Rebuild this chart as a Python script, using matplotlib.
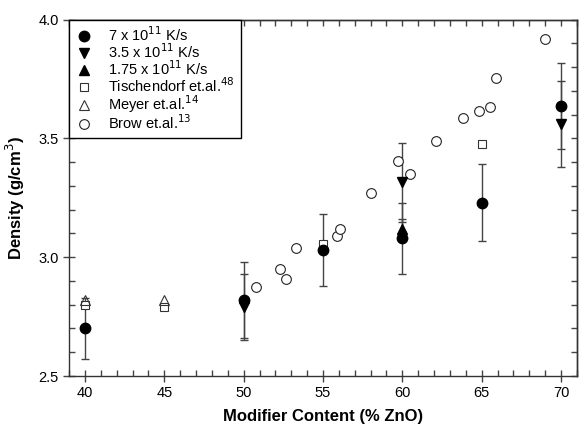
import numpy as np
import matplotlib.pyplot as plt
from matplotlib.ticker import MultipleLocator, NullFormatter

plt.rcParams['font.family'] = ['Liberation Sans', 'DejaVu Sans']

# Cooling rate 7e11 K/s
x_7 = [40, 50, 55, 60, 65, 70]
d_7 = [2.70, 2.82, 3.03, 3.08, 3.23, 3.635]
e_7 = [0.13, 0.16, 0.15, 0.15, 0.16, 0.18]

# Cooling rate 3.5e11 K/s
x_35 = [50, 60, 70]
d_35 = [2.79, 3.315, 3.56]
e_35 = [0.14, 0.165, 0.18]

# Cooling rate 1.75e11 K/s
x_175 = [60]
d_175 = [3.12]
e_175 = [0.04]

# Tischendorf et.al.
x_tis = [40, 45, 55, 65]
d_tis = [2.80, 2.79, 3.055, 3.475]

# Meyer et.al.
x_mey = [40, 45]
d_mey = [2.82, 2.82]

# Brow et.al.
x_brow = [50.75, 52.3, 52.7, 53.3, 55.9, 56.1, 58.05, 59.75, 60.5, 62.1,
          63.8, 64.8, 65.5, 65.9, 69.0]
d_brow = [2.874, 2.95, 2.908, 3.04, 3.09, 3.12, 3.27, 3.405, 3.35, 3.487,
          3.585, 3.617, 3.63, 3.755, 3.92]

fig = plt.figure(figsize=(5.79, 4.24), dpi=100)
ax = fig.add_axes([0.1192, 0.1132, 0.8773, 0.8408])

ebar = dict(fmt='none', ecolor='#444444', elinewidth=1.0, capsize=3.2, capthick=1.0)
ax.errorbar(x_7, d_7, yerr=e_7, **ebar)
ax.errorbar(x_35, d_35, yerr=e_35, **ebar)
ax.errorbar(x_175, d_175, yerr=e_175, **ebar)

ax.plot(x_tis, d_tis, 's', ms=6, mfc='white', mec='#333333', mew=0.8,
        label='Tischendorf et.al.$^{48}$', zorder=3)
ax.plot(x_mey, d_mey, '^', ms=6.5, mfc='none', mec='#333333', mew=0.8,
        label='Meyer et.al.$^{14}$', zorder=3)
ax.plot(x_brow, d_brow, 'o', ms=7, mfc='white', mec='#222222', mew=0.8,
        label='Brow et.al.$^{13}$', zorder=3)
ax.plot(x_175, d_175, '^', ms=7, color='black', label='1.75 x 10$^{11}$ K/s', zorder=4)
ax.plot(x_35, d_35, 'v', ms=7, color='black', label='3.5 x 10$^{11}$ K/s', zorder=4)
ax.plot(x_7, d_7, 'o', ms=7.5, color='black', label='7 x 10$^{11}$ K/s', zorder=5)

ax.set_xlim(39, 71)
ax.set_ylim(2.5, 4.0)
ax.xaxis.set_major_locator(MultipleLocator(5))
ax.xaxis.set_minor_locator(MultipleLocator(1))
ax.yaxis.set_major_locator(MultipleLocator(0.5))
ax.yaxis.set_minor_locator(MultipleLocator(0.1))
ax.yaxis.set_major_formatter(plt.FormatStrFormatter('%.1f'))

ax.tick_params(which='major', direction='inout', length=8, width=1, labelsize=10.5,
               color='#444444')
ax.tick_params(which='minor', direction='in', length=4, width=1, color='#444444')

# inward ticks on the top and right edges
top = ax.secondary_xaxis('top')
top.xaxis.set_major_locator(MultipleLocator(1))
top.xaxis.set_major_formatter(NullFormatter())
top.tick_params(direction='in', length=4, width=1, color='#444444')
right = ax.secondary_yaxis('right')
right.yaxis.set_major_locator(MultipleLocator(0.1))
right.yaxis.set_major_formatter(NullFormatter())
right.tick_params(direction='in', length=4, width=1, color='#444444')

for a in (ax, top, right):
    for s in a.spines.values():
        s.set_color('#333333')
        s.set_linewidth(1.0)

ax.set_xlabel('Modifier Content (% ZnO)', fontsize=12, fontweight='bold', labelpad=6)
ax.set_ylabel('Density (g/cm$^3$)', fontsize=12, fontweight='bold', labelpad=8)

handles, labels = ax.get_legend_handles_labels()
order = [5, 4, 3, 0, 1, 2]
leg = ax.legend([handles[i] for i in order], [labels[i] for i in order],
                loc='upper left', borderaxespad=0, fontsize=10.5, fancybox=False,
                framealpha=1, edgecolor='black', handlelength=1.2,
                handletextpad=1.1, labelspacing=-0.12, borderpad=0.4)
leg.get_frame().set_linewidth(1.0)
leg.set_zorder(10)

plt.savefig('out.png', dpi=100)
